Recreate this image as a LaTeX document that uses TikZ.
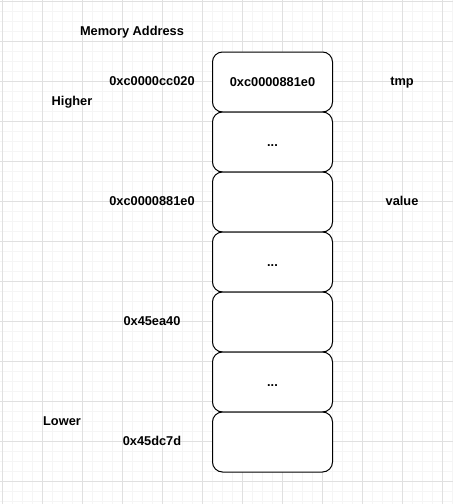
\documentclass[tikz,border=0pt]{standalone}
\usepackage{fontspec}
\setmainfont{Liberation Sans}
\begin{document}
\begin{tikzpicture}[x=1pt,y=-1pt]
%%%%%%%%%%%%%%%%%%%%%%%%%%%%%%%%%%%%%%%%%%%%%%%%%%%%%%%%
% STYLE
\tikzstyle{minorgrid}=[draw=black!4,line width=0.5pt]
\tikzstyle{majorgrid}=[draw=black!12,line width=0.8pt]
\tikzstyle{cell}=[rectangle,draw,rounded corners=10pt,line width=1pt,
  minimum width=120pt,minimum height=60pt,inner sep=0pt,fill=white,
  text height=9.5pt,text depth=0pt,
  font=\fontsize{12.8}{15}\selectfont\bfseries]
\tikzstyle{txt}=[inner sep=0pt,text height=9.5pt,text depth=0pt,
  font=\fontsize{12.8}{15}\selectfont\bfseries]

%%%%%%%%%%%%%%%%%%%%%%%%%%%%%%%%%%%%%%%%%%%%%%%%%%%%%%%%
% BACKGROUND
\useasboundingbox[fill=white] (0,0) rectangle (453,504);
\draw[minorgrid,shift={(2.5,1.5)}] (-10,-10) grid[step=10pt] (460,510);
\draw[majorgrid,shift={(2.5,1.5)}] (-40,-40) grid[step=40pt] (480,520);

%%%%%%%%%%%%%%%%%%%%%%%%%%%%%%%%%%%%%%%%%%%%%%%%%%%%%%%%
% NODES
\node[cell] (B0) at (272.5,82) {0xc0000881e0};
\node[cell] (B1) at (272.5,142) {...};
\node[cell] (B2) at (272.5,202) {};
\node[cell] (B3) at (272.5,262) {...};
\node[cell] (B4) at (272.5,322) {};
\node[cell] (B5) at (272.5,382) {...};
\node[cell] (B6) at (272.5,442) {};

\node[txt] (t0) at (132,31) {Memory Address};
\node[txt] (t1) at (152,81) {0xc0000cc020};
\node[txt] (t2) at (72,101) {Higher};
\node[txt] (t3) at (402,81) {tmp};
\node[txt] (t4) at (152,201) {0xc0000881e0};
\node[txt] (t5) at (402,201) {value};
\node[txt] (t6) at (152,321) {0x45ea40};
\node[txt] (t7) at (62,421) {Lower};
\node[txt] (t8) at (152,441) {0x45dc7d};

\end{tikzpicture}
\end{document}
